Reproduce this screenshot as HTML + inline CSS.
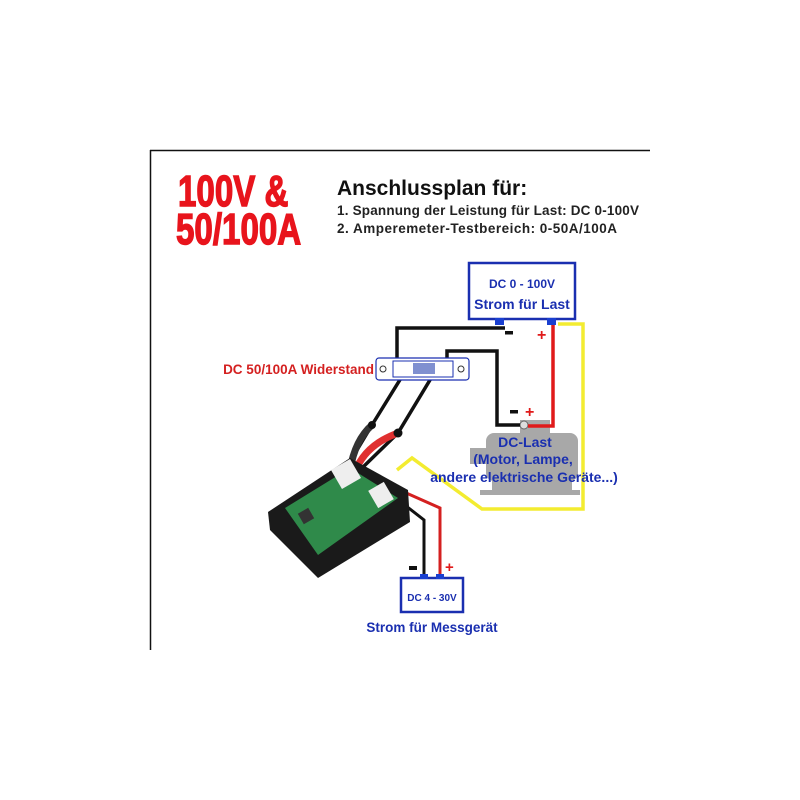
<!DOCTYPE html>
<html><head><meta charset="utf-8"><style>
html,body{margin:0;padding:0;background:#fff;width:800px;height:800px;overflow:hidden}
svg{display:block}
text{font-family:"Liberation Sans","DejaVu Sans",sans-serif}
</style></head><body>
<svg width="800" height="800" viewBox="0 0 800 800" xmlns="http://www.w3.org/2000/svg">
<rect width="800" height="800" fill="#fff"/>
<line x1="150" y1="150.5" x2="650" y2="150.5" stroke="#111" stroke-width="1.5"/>
<line x1="150.5" y1="150" x2="150.5" y2="650" stroke="#111" stroke-width="1.5"/>

<text x="0" y="0" font-size="46" font-weight="bold" fill="#e8141c" stroke="#e8141c" stroke-width="1.5" transform="translate(178,206) scale(0.72,0.95)">100V &amp;</text>
<text x="0" y="0" font-size="46" font-weight="bold" fill="#e8141c" stroke="#e8141c" stroke-width="1.5" transform="translate(176,244) scale(0.72,0.95)">50/100A</text>

<text x="337" y="195" font-size="21" font-weight="bold" fill="#111">Anschlussplan für:</text>
<text x="337" y="215" font-size="13.5" font-weight="bold" fill="#222" textLength="302">1. Spannung der Leistung für Last: DC 0-100V</text>
<text x="337" y="233" font-size="13.5" font-weight="bold" fill="#222" textLength="280">2. Amperemeter-Testbereich: 0-50A/100A</text>

<!-- top box -->
<rect x="469" y="263" width="106" height="56" fill="#fff" stroke="#1a2fb0" stroke-width="2.5"/>
<text x="522" y="288" text-anchor="middle" font-size="12" font-weight="bold" fill="#1a2fb0">DC 0 - 100V</text>
<text x="522" y="309" text-anchor="middle" font-size="14" font-weight="bold" fill="#1a2fb0">Strom für Last</text>
<rect x="495" y="318" width="9" height="7" fill="#1a3fd0"/>
<rect x="547" y="318" width="9" height="7" fill="#1a3fd0"/>

<!-- motor -->
<g fill="#a8a8a8">
<rect x="486" y="433" width="92" height="48" rx="8"/>
<rect x="470" y="448" width="18" height="16"/>
<rect x="520" y="420" width="30" height="14"/>
<rect x="492" y="480" width="80" height="12"/>
<rect x="480" y="490" width="100" height="5"/>
</g>
<circle cx="524" cy="425" r="4" fill="#ddd" stroke="#666"/>

<!-- wires -->
<polyline points="505,328 397,328 397,362" fill="none" stroke="#111" stroke-width="3.5"/>
<polyline points="447,365 447,351 497,351 497,425 520,425" fill="none" stroke="#111" stroke-width="3.5"/>
<polyline points="553,325 553,426 528,426" fill="none" stroke="#e01a1a" stroke-width="3.5"/>
<polyline points="558,324 583,324 583,509 482,509 412,458 397,470" fill="none" stroke="#f3ec30" stroke-width="3.5"/>
<polyline points="406,370 372,425 345,470" fill="none" stroke="#111" stroke-width="3.5"/>
<polyline points="436,370 398,433 360,470" fill="none" stroke="#111" stroke-width="3.5"/>
<path d="M372,425 Q355,440 350,470" fill="none" stroke="#333" stroke-width="7"/>
<path d="M398,433 Q365,445 355,472" fill="none" stroke="#e03030" stroke-width="7"/>
<circle cx="372" cy="425" r="4" fill="#111"/>
<circle cx="398" cy="433" r="4.5" fill="#111"/>
<polyline points="395,488 440,508 440,577" fill="none" stroke="#d42020" stroke-width="3"/>
<polyline points="392,495 424,520 424,577" fill="none" stroke="#111" stroke-width="3"/>

<!-- shunt -->
<rect x="376" y="358" width="93" height="22" rx="3" fill="#fff" stroke="#1a2fb0" stroke-width="1.2"/>
<rect x="393" y="361" width="60" height="16" fill="#fff" stroke="#1a2fb0" stroke-width="1"/>
<rect x="413" y="363" width="22" height="11" fill="#8090d0"/>
<circle cx="383" cy="369" r="3" fill="none" stroke="#333"/>
<circle cx="461" cy="369" r="3" fill="none" stroke="#333"/>
<text x="374" y="374" text-anchor="end" font-size="13.5" font-weight="bold" fill="#d42020">DC 50/100A Widerstand</text>

<!-- meter -->
<polygon points="268,512 350,458 408,490 410,522 318,578 270,530" fill="#1a1a1a"/>
<polygon points="285,508 350,468 398,498 318,555" fill="#2f8a4a"/>
<rect x="300" y="510" width="12" height="12" fill="#333" transform="rotate(-30 306 516)"/>
<rect x="335" y="463" width="22" height="22" fill="#eee" transform="rotate(-30 346 474)"/>
<rect x="372" y="485" width="18" height="20" fill="#eee" transform="rotate(-30 381 495)"/>

<!-- labels -->
<rect x="505" y="331" width="8" height="3.5" fill="#111"/>
<text x="537" y="340" font-size="16" font-weight="bold" fill="#e01a1a">+</text>
<rect x="510" y="410" width="8" height="3.5" fill="#111"/>
<text x="525" y="417" font-size="16" font-weight="bold" fill="#e01a1a">+</text>
<text x="525" y="447" text-anchor="middle" font-size="14" font-weight="bold" fill="#1a2fb0">DC-Last</text>
<text x="523" y="464" text-anchor="middle" font-size="14" font-weight="bold" fill="#1a2fb0">(Motor, Lampe,</text>
<text x="524" y="482" text-anchor="middle" font-size="14" font-weight="bold" fill="#1a2fb0">andere elektrische Geräte...)</text>

<rect x="401" y="578" width="62" height="34" fill="#fff" stroke="#1a2fb0" stroke-width="2.5"/>
<rect x="420" y="574" width="8" height="5" fill="#1a3fd0"/>
<rect x="436" y="574" width="8" height="5" fill="#1a3fd0"/>
<text x="432" y="601" text-anchor="middle" font-size="10" font-weight="bold" fill="#1a2fb0">DC 4 - 30V</text>
<rect x="409" y="566" width="8" height="4" fill="#111"/>
<text x="445" y="572" font-size="15" font-weight="bold" fill="#e01a1a">+</text>
<text x="432" y="632" text-anchor="middle" font-size="13.5" font-weight="bold" fill="#1a2fb0">Strom für Messgerät</text>
</svg>
</body></html>
